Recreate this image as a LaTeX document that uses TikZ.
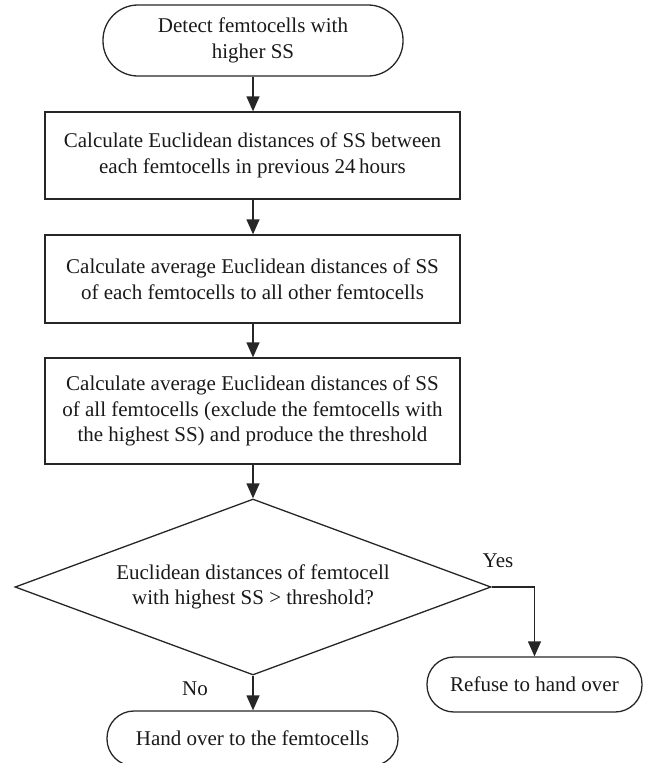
\documentclass[tikz,border=0pt]{standalone}
\usepackage{fontspec}
\setmainfont{Liberation Serif}
\usetikzlibrary{shapes.geometric,arrows.meta}
\begin{document}
\begin{tikzpicture}[x=1pt,y=-1pt,
  every node/.style={font=\fontsize{21}{25.5}\selectfont, align=center, inner sep=0pt, text=black!90},
  edgeline/.style={draw=black!85, line width=1.3pt},
  proc/.style={edgeline, rectangle, minimum width=415pt},
  termbig/.style={edgeline, rectangle, rounded corners=35pt, minimum width=300pt, minimum height=71pt},
  termsmall/.style={edgeline, rectangle, rounded corners=27pt, minimum height=55pt},
  decision/.style={edgeline, diamond, shape aspect=2.7, minimum width=476pt, minimum height=176pt},
  conn/.style={edgeline, -{Triangle[length=15pt,width=13pt]}},
  lbl/.style={font=\fontsize{21}{25.5}\selectfont}]
\useasboundingbox (0,0) rectangle (646,763);

\node[termbig] (start) at (253,40.5) {Detect femtocells with\\higher SS};
\node[proc, minimum height=87pt] (b1) at (252.5,155.5) {Calculate Euclidean distances of SS between\\each femtocells in previous 24\,hours};
\node[proc, minimum height=88pt] (b2) at (252.5,279) {Calculate average Euclidean distances of SS\\of each femtocells to all other femtocells};
\node[proc, minimum height=106pt] (b3) at (252.5,411) {Calculate average Euclidean distances of SS\\of all femtocells (exclude the femtocells with\\the highest SS) and produce the threshold};
\node[decision] (dec) at (253,587) {Euclidean distances of femtocell\\with highest SS > threshold?};
\node[termsmall, minimum width=215pt] (refuse) at (534.5,684.5) {Refuse to hand over};
\node[termsmall, minimum width=291pt] (hand) at (252.5,738.5) {Hand over to the femtocells};

\node[lbl] (yes) at (498,561) {Yes};
\node[lbl] (no) at (195,689) {No};

\draw[conn] (start.south) -- (start.south |- b1.north);
\draw[conn] (b1.south -| start.south) -- (b2.north -| start.south);
\draw[conn] (b2.south -| start.south) -- (b3.north -| start.south);
\draw[conn] (b3.south -| dec.north) -- (dec.north);
\draw[conn] (dec.east) -| (refuse.north);
\draw[conn] (dec.south) -- (dec.south |- hand.north);
\end{tikzpicture}
\end{document}
